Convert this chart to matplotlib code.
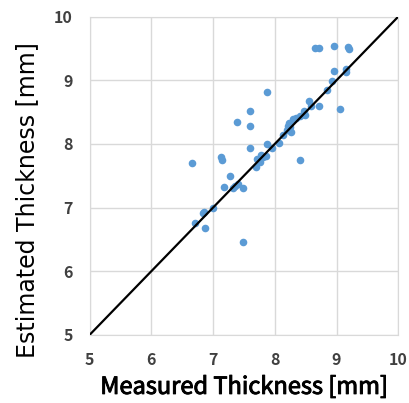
import matplotlib.pyplot as plt
import matplotlib.patheffects as pe

plt.rcParams['font.family'] = ['Noto Sans CJK JP', 'DejaVu Sans']

# measured vs estimated thickness [mm]
measured = [8.65, 8.72, 8.95, 9.19, 9.20, 8.95, 9.16, 9.15, 8.92, 8.84,
            7.87, 8.55, 8.58, 8.72, 9.06, 8.48, 8.49, 8.41, 8.35, 8.30,
            8.23, 8.22, 8.24, 8.20, 8.26, 7.60, 7.39, 7.60, 8.13, 8.06,
            7.88, 7.96, 7.60, 8.40, 6.66, 7.12, 7.14, 7.71, 7.78, 7.81,
            7.85, 7.76, 7.70, 7.28, 7.17, 7.32, 7.36, 7.40, 7.49, 6.86,
            6.83, 7.00, 6.70, 6.87, 7.48]
estimated = [9.50, 9.50, 9.53, 9.52, 9.49, 9.15, 9.18, 9.13, 8.98, 8.85,
             8.81, 8.67, 8.60, 8.60, 8.54, 8.52, 8.45, 8.43, 8.40, 8.39,
             8.33, 8.28, 8.26, 8.22, 8.19, 8.51, 8.35, 8.28, 8.14, 8.02,
             8.00, 7.94, 7.94, 7.75, 7.70, 7.80, 7.75, 7.77, 7.82, 7.79,
             7.81, 7.71, 7.64, 7.50, 7.33, 7.30, 7.34, 7.37, 7.30, 6.93,
             6.91, 7.00, 6.75, 6.68, 6.46]
lims = [5, 10]
ticks = [5, 6, 7, 8, 9, 10]

fig = plt.figure(figsize=(4.09, 4.03), dpi=100)
ax = fig.add_axes([0.219, 0.169, 0.755, 0.79])

ax.scatter(measured, estimated, s=30, color='#5B9BD5', zorder=3, linewidths=0)
ax.plot(lims, lims, color='black', lw=1.6, zorder=4)

ax.set_xlim(lims)
ax.set_ylim(lims)
ax.set_xticks(ticks)
ax.set_yticks(ticks)
ax.grid(True, color='#d9d9d9', lw=1.0)
ax.set_axisbelow(True)
for s in ax.spines.values():
    s.set_color('#d9d9d9')
ax.tick_params(length=0, pad=12, labelsize=11.5, labelcolor='#404040')
for lab in ax.get_xticklabels() + ax.get_yticklabels():
    lab.set_fontweight('bold')

xl = ax.set_xlabel('Measured Thickness [mm]', fontsize=17, labelpad=6)
xl.set_path_effects([pe.withStroke(linewidth=0.7, foreground='black')])
ax.set_ylabel('Estimated Thickness [mm]', fontsize=17, family='DejaVu Sans')
ax.yaxis.set_label_coords(-0.163, 0.425)

fig.savefig('out.png', dpi=100)
